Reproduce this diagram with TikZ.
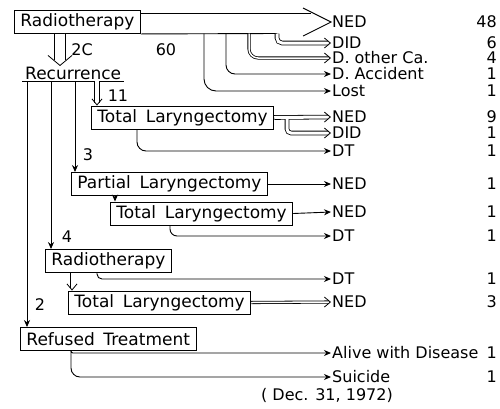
\documentclass[tikz,border=0pt]{standalone}
\usepackage{fontspec}
\setmainfont{DejaVu Sans}
\newfontfamily\boxfont{DejaVu Sans}[WordSpace=1.6]
\usetikzlibrary{arrows.meta}

\tikzset{
  box/.style={draw, line width=0.9pt, inner xsep=6pt, inner ysep=0pt, minimum height=23pt, anchor=west,
    font=\boxfont\fontsize{17}{19}\selectfont},
  outcome/.style={anchor=west, inner sep=1pt},
  count/.style={anchor=east, inner sep=1pt},
  flow/.style={line width=0.9pt, -{Stealth[length=7pt, width=6pt]}},
  dline/.style={line width=0.8pt, double, double distance=3pt, shorten >=3pt},
  dtip/.style={line width=0.8pt, dash pattern=on 0pt off 2000pt, -{Straight Barb[length=6pt, width=10pt]}},
  curved/.style={rounded corners=9pt},
}

\begin{document}
\begin{tikzpicture}[x=1pt, y=-1pt, font=\fontsize{16}{18}\selectfont]
  \useasboundingbox (0,0) rectangle (500,408);

  % --- 1. 治療の箱 ---
  \node[box] (rt1) at (14,22) {Radiotherapy};
  \node[anchor=south west, inner xsep=3pt, inner ysep=1pt, font=\boxfont\fontsize{17}{19}\selectfont] (rec) at (22,81) {Recurrence};
  \draw[line width=0.9pt] (rec.south west) -- (rec.south east);
  \node[box] (tl1) at (91,117.5) {Total Laryngectomy};
  \node[box] (pl) at (71,184) {Partial Laryngectomy};
  \node[box] (tl2) at (110,213.5) {Total Laryngectomy};
  \node[box] (rt2) at (45,261) {Radiotherapy};
  \node[box] (tl3) at (68,302.5) {Total Laryngectomy};
  \node[box] (rf) at (20,339) {Refused Treatment};

  % --- 2. 転帰と症例数 ---
  \node[outcome] (ned1) at (331,22) {NED};          \node[count] (c1) at (498,22) {48};
  \node[outcome] (did1) at (331,43) {DID};          \node[count] (c2) at (498,43) {6};
  \node[outcome] (doc) at (331,58) {D. other Ca.};  \node[count] (c3) at (498,58) {4};
  \node[outcome] (dacc) at (331,74) {D. Accident};  \node[count] (c4) at (498,74) {1};
  \node[outcome] (lost) at (331,91) {Lost};         \node[count] (c5) at (498,91) {1};
  \node[outcome] (ned2) at (331,117) {NED};         \node[count] (c6) at (498,117) {9};
  \node[outcome] (did2) at (331,133) {DID};         \node[count] (c7) at (498,133) {1};
  \node[outcome] (dt1) at (331,151) {DT};           \node[count] (c8) at (498,151) {1};
  \node[outcome] (ned3) at (331,184) {NED};         \node[count] (c9) at (498,184) {1};
  \node[outcome] (ned4) at (331,212) {NED};         \node[count] (c10) at (498,212) {1};
  \node[outcome] (dt2) at (331,236) {DT};           \node[count] (c11) at (498,236) {1};
  \node[outcome] (dt3) at (331,279) {DT};           \node[count] (c12) at (498,279) {1};
  \node[outcome] (ned5) at (331,302) {NED};         \node[count] (c13) at (498,302) {3};
  \node[outcome] (alive) at (331,353) {Alive with Disease}; \node[count] (c14) at (498,353) {1};
  \node[outcome] (suic) at (331,377) {Suicide};     \node[count] (c15) at (498,377) {1};
  \node (date) at (327,395) {( Dec. 31, 1972)};

  % --- 3. 放射線治療からの太い矢印 ---
  \coordinate (bigtop) at (311,13);
  \coordinate (headup) at (303,8);
  \coordinate (headlo) at (303,36);
  \coordinate (bDid) at (277,33.5);
  \coordinate (bOth) at (249,33.5);
  \coordinate (bAcc) at (226,33.5);
  \coordinate (bLost) at (204,33.5);
  \draw[line width=0.9pt] (rt1.east |- bigtop) -- (bigtop);
  \draw[line width=0.9pt] (headup) -- (ned1.west) -- (headlo);
  \draw[line width=0.9pt] (rt1.south east) -- (bDid);
  \draw[dline, rounded corners=5pt] (bDid) |- (did1.west);
  \draw[dtip, rounded corners=5pt] (bDid) |- (did1.west);
  \draw[dline, curved, double distance=1.5pt, shorten >=2pt] (bOth) |- (doc.west);
  \draw[dtip, curved] (bOth) |- (doc.west);
  \draw[flow, curved] (bAcc) |- (dacc.west);
  \draw[flow, rounded corners=12pt] (bLost) |- (lost.west);
  \node (n2c) at (82,50) {2C};
  \node (n60) at (166,50) {60};
  \coordinate (a2c) at (60,33.5);
  \draw[dline, double distance=10pt, shorten >=6pt] (a2c) -- (a2c |- rec.north);
  \draw[dtip, -{Straight Barb[length=10pt, width=24pt]}] (a2c) -- (a2c |- rec.north);

  % --- 4. 再発後の縦線 ---
  \coordinate (u2) at (27,81);
  \coordinate (u4) at (51,81);
  \coordinate (u3) at (75,81);
  \coordinate (u11) at (97,81);
  \draw[flow] (u2) -- (u2 |- rf.north);
  \draw[flow] (u4) -- (u4 |- rt2.north);
  \draw[flow] (u3) -- (u3 |- pl.north);
  \draw[dline, double distance=4pt] (u11) -- (u11 |- tl1.north);
  \draw[dtip] (u11) -- (u11 |- tl1.north);
  \node (n11) at (118,96) {11};
  \node (n3) at (88,155) {3};
  \node (n4) at (67,237) {4};
  \node (n2) at (40,305) {2};

  % --- 5. 各治療から転帰へ ---
  \draw[dline] (tl1.east) -- (ned2.west);
  \draw[dtip] (tl1.east) -- (ned2.west);
  \coordinate (tdid) at (287,119);
  \draw[dline, rounded corners=4pt] (tdid) |- (did2.west);
  \draw[dtip, rounded corners=4pt] (tdid) |- (did2.west);
  \draw[flow, curved] (tl1.south -| 137,0) |- (dt1.west);
  \draw[flow] (pl.east) -- (ned3.west);
  \draw[flow] (pl.south -| 115,0) -- (tl2.north -| 115,0);
  \draw[flow] (tl2.east) -- (ned4.west);
  \draw[flow, rounded corners=7pt] (tl2.south -| 170,0) |- (dt2.west);
  \draw[flow, rounded corners=5pt] (rt2.south -| 97,0) |- (dt3.west);
  \draw[dline] (rt2.south -| 72,0) -- (tl3.north -| 72,0);
  \draw[dtip] (rt2.south -| 72,0) -- (tl3.north -| 72,0);
  \draw[dline, double distance=1.5pt, shorten >=2pt] (tl3.east) -- (ned5.west);
  \draw[dtip] (tl3.east) -- (ned5.west);
  \draw[flow, rounded corners=2pt] (rf.south -| 71,0) |- (alive.west);
  \draw[flow, curved] (rf.south -| 71,0) |- (suic.west);

\end{tikzpicture}
\end{document}
